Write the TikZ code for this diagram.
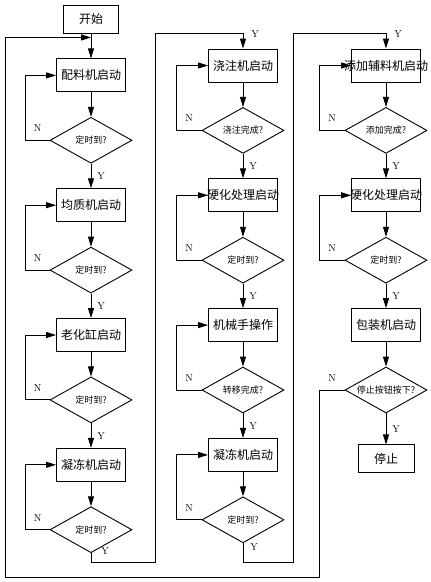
\documentclass[tikz,border=0pt]{standalone}
\usepackage{fontspec}
\newfontfamily\cjk{Noto Sans CJK SC}
\usepackage{tikz}
\usetikzlibrary{arrows.meta, positioning, calc, shapes.geometric}

\begin{document}
\begin{tikzpicture}[
  x=1pt, y=-1pt, line width=0.9pt,
  node distance=24.5pt,
  box/.style={draw, minimum width=69pt, minimum height=33pt, inner sep=2pt,
              font=\cjk\fontsize{12}{14}\selectfont},
  query/.style={draw, diamond, aspect=1.8, minimum width=82pt,
                minimum height=46pt, inner sep=0pt,
                font=\cjk\fontsize{9}{10}\selectfont},
  lab/.style={font=\normalsize, inner sep=2pt},
  arr/.style={-{Triangle[length=10pt, width=6pt]}}
]
  \useasboundingbox (0,0) rectangle (431,582);

  % first column
  \node[box, minimum width=55pt, minimum height=28pt] (start) at (91,19) {开始};
  \node[box, below=25pt of start] (mix) {配料机启动};
  \node[query, below=of mix] (q1) {定时到?};
  \node[box, below=of q1] (homo) {均质机启动};
  \node[query, below=of homo] (q2) {定时到?};
  \node[box, below=of q2] (age) {老化缸启动};
  \node[query, below=of age] (q3) {定时到?};
  \node[box, below=of q3] (freeze) {凝冻机启动};
  \node[query, below=of freeze] (q4) {定时到?};

  % second column
  \node[box] (pour) at (243,65.5) {浇注机启动};
  \node[query, below=of pour] (q5) {浇注完成?};
  \node[box, below=of q5] (hard) {\makebox[65pt]{硬化处理启动}};
  \node[query, below=of hard] (q6) {定时到?};
  \node[box, below=of q6] (robot) {机械手操作};
  \node[query, below=of robot] (q7) {转移完成?};
  \node[box, below=of q7] (freezeb) {凝冻机启动};
  \node[query, below=of freezeb] (q8) {定时到?};

  % third column
  \node[box] (feed) at (386,65.5) {\makebox[65pt]{添加辅料机启动}};
  \node[query, below=of feed] (q9) {添加完成?};
  \node[box, below=of q9] (hardb) {\makebox[65pt]{硬化处理启动}};
  \node[query, below=of hardb] (q10) {定时到?};
  \node[box, below=of q10] (pack) {包装机启动};
  \node[query, below=of pack] (q11) {停止按钮按下?};
  \node[box, below=31pt of q11, minimum width=56pt, minimum height=28pt] (stop) {停止};

  \coordinate (join) at ($(start.south)+(0,4)$);

  \draw[arr] (start) -- (mix);
  \draw[arr] (mix) -- (q1);
  \draw[arr] (q1) -- node[lab, right=4pt] {Y} (homo);
  \draw[arr] (q1.west) -- node[lab, above=6pt] {N} ++(-24,0) |- (mix.west);
  \draw[arr] (homo) -- (q2);
  \draw[arr] (q2) -- node[lab, right=4pt] {Y} (age);
  \draw[arr] (q2.west) -- node[lab, above=6pt] {N} ++(-24,0) |- (homo.west);
  \draw[arr] (age) -- (q3);
  \draw[arr] (q3) -- node[lab, right=4pt] {Y} (freeze);
  \draw[arr] (q3.west) -- node[lab, above=6pt] {N} ++(-24,0) |- (age.west);
  \draw[arr] (freeze) -- (q4);
  \draw[arr] (q4.west) -- node[lab, above=6pt] {N} ++(-24,0) |- (freeze.west);
  \draw[arr] (q4.south) node[lab, right=8pt, yshift=2pt] {Y} |- (155,562)
    -- (155,33) -| node[lab, right=6pt, pos=0.55] {Y} (pour.north);

  \draw[arr] (pour) -- (q5);
  \draw[arr] (q5) -- node[lab, right=4pt] {Y} (hard);
  \draw[arr] (q5.west) -- node[lab, above=6pt] {N} ++(-25,0) |- (pour.west);
  \draw[arr] (hard) -- (q6);
  \draw[arr] (q6) -- node[lab, right=4pt] {Y} (robot);
  \draw[arr] (q6.west) -- node[lab, above=6pt] {N} ++(-25,0) |- (hard.west);
  \draw[arr] (robot) -- (q7);
  \draw[arr] (q7) -- node[lab, right=4pt] {Y} (freezeb);
  \draw[arr] (q7.west) -- node[lab, above=6pt] {N} ++(-25,0) |- (robot.west);
  \draw[arr] (freezeb) -- (q8);
  \draw[arr] (q8.west) -- node[lab, above=6pt] {N} ++(-25,0) |- (freezeb.west);
  \draw[arr] (q8.south) node[lab, right=5pt, yshift=-4pt] {Y} |- (293,562)
    -- (293,33) -| node[lab, right=6pt, pos=0.55] {Y} (feed.north);

  \draw[arr] (feed) -- (q9);
  \draw[arr] (q9) -- node[lab, right=4pt] {Y} (hardb);
  \draw[arr] (q9.west) -- node[lab, above=6pt] {N} ++(-25,0) |- (feed.west);
  \draw[arr] (hardb) -- (q10);
  \draw[arr] (q10) -- node[lab, right=4pt] {Y} (pack);
  \draw[arr] (q10.west) -- node[lab, above=6pt] {N} ++(-25,0) |- (hardb.west);
  \draw[arr] (pack) -- (q11);
  \draw[arr] (q11) -- node[lab, right=4pt] {Y} (stop);
  \draw[arr] (q11.west) -- node[lab, above=6pt] {N} ++(-25,0) |- (5,577)
    |- (join);
\end{tikzpicture}
\end{document}
